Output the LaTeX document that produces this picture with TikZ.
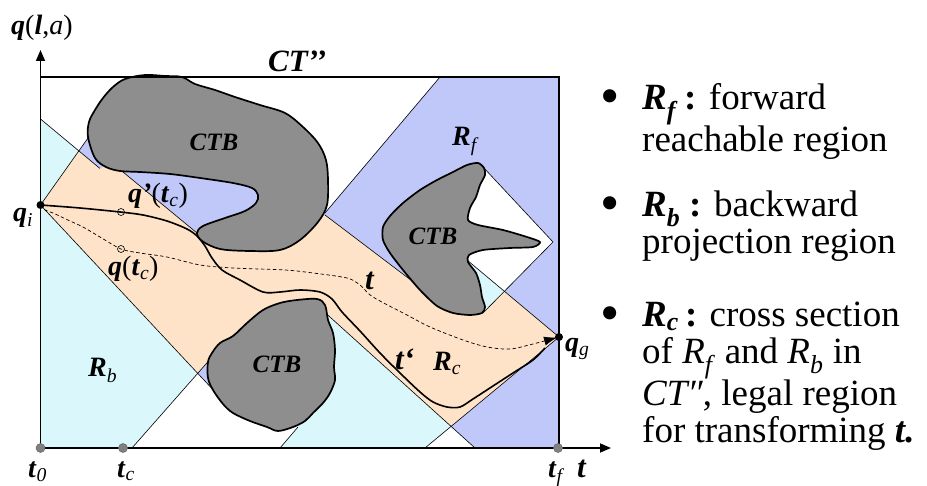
\documentclass[tikz,border=0pt]{standalone}
\usepackage{fontspec}
\setmainfont{Liberation Serif}
\usetikzlibrary{arrows.meta}
\definecolor{rbcol}{RGB}{218,248,252}
\definecolor{rfcol}{RGB}{192,200,250}
\definecolor{rccol}{RGB}{254,227,200}
\definecolor{ctbcol}{RGB}{142,142,142}
\definecolor{dotgray}{RGB}{128,128,128}
\newcommand{\bi}[1]{\textbf{\textit{#1}}}
\newcommand{\sbn}[1]{\textsubscript{\normalfont\itshape #1}}
\begin{document}
\begin{tikzpicture}[x=1pt,y=-1pt,
  rbpath/.style={insert path={(40.5,119) -- (100,168.5) -- (112,163) -- (123,172) -- (197,233) -- (215,242) -- (280,244) -- (312,222) -- (325,215) -- (420,287) -- (450,285) -- (467,260) -- (559,337) -- (425,448) -- (280,448) -- (298,427) -- (290,400) -- (213,356) -- (132,448) -- (40.5,448) -- cycle}},
  rfpath/.style={insert path={(40.5,205) -- (88,138) -- (100,118) -- (150,105) -- (250,130) -- (300,160) -- (318,200) -- (325,213) -- (440,77) -- (559,77) -- (559,448) -- (475,448) -- (320,308) -- (270,350) -- (217,394) -- cycle}},
  notchpath/.style={insert path={(483,167) -- (553,242) -- (483,313) -- (465,290) -- (455,230) -- (465,185) -- cycle}},
  thinl/.style={line width=0.6pt},
  ctb/.style={fill=ctbcol,draw=black,line width=1.7pt,line join=round},
  lab/.style={inner sep=0pt,font=\fontsize{28}{28}\selectfont},
  ctblab/.style={inner sep=0pt,font=\fontsize{25}{25}\selectfont\bfseries\itshape},
  leg/.style={inner sep=0pt,font=\fontsize{37}{37}\selectfont},
  bull/.style={inner sep=0pt,font=\fontsize{55}{55}\selectfont},
  bdot/.style={circle,fill=black,inner sep=0pt,minimum size=8pt},
  gdot/.style={circle,fill=dotgray,draw=black!60,line width=0.5pt,inner sep=0pt,minimum size=9pt},
  mk/.style={circle,draw=black,line width=0.6pt,inner sep=0pt,minimum size=7pt},
  axisarrow/.style={line width=1.6pt,-{Triangle[length=11pt,width=9pt]}}
]
\useasboundingbox (0,0) rectangle (927,486);
% regions
\fill[white] (40.5,77) rectangle (559,448);
\fill[rbcol,rbpath];
\fill[rfcol,rfpath];
\begin{scope}
  \clip[rfpath];
  \fill[rccol,rbpath];
\end{scope}
\fill[white,notchpath];
\begin{scope}
  \clip[notchpath];
  \fill[rbcol,rbpath];
\end{scope}
% region boundary lines
\draw[thinl] (40.5,119) -- (100,168.5);
\draw[thinl] (40.5,205) -- (88,138);
\draw[thinl] (123,172) -- (197,233);
\draw[thinl] (325,213) -- (440,77);
\draw[thinl] (325,215) -- (420,287);
\draw[thinl] (467,260) -- (559,337);
\draw[thinl] (483,167) -- (553,242) -- (483,313);
\draw[thinl] (559,337) -- (425,448);
\draw[thinl] (475,448) -- (320,308);
\draw[thinl] (280,448) -- (298,427);
\draw[thinl] (132,448) -- (213,356);
\draw[thinl] (40.5,205) -- (217,394);
% obstacles
\draw[ctb] plot[smooth cycle,tension=0.55] coordinates {(88,137) (89,122) (95,110) (103,98) (113,87) (125,79) (145,75) (165,76) (182,77) (195,84) (215,90) (235,97) (260,105) (285,113) (303,127) (318,143) (326,160) (328,180) (327,205) (318,222) (300,240) (280,250) (250,251) (220,249) (202,241) (197,233) (203,226) (225,218) (245,211) (256,203) (258,195) (252,188) (233,183) (200,178) (170,174) (140,172) (120,171) (106,167) (95,158)};
\draw[ctb] plot[smooth cycle,tension=0.45] coordinates {(478,163) (484,168) (485,175) (480,185) (476,197) (470,208) (468,220) (478,225) (503,230) (527,237) (540,242) (533,247) (510,248) (483,250) (469,255) (468,262) (476,273) (480,285) (482,297) (485,307) (482,313) (470,315) (453,313) (437,306) (420,290) (403,270) (390,253) (383,240) (383,227) (390,216) (403,203) (420,190) (437,180) (453,172) (467,165)};
\draw[ctb] plot[smooth cycle,tension=0.55] coordinates {(208,362) (212,353) (220,343) (233,336) (247,323) (263,310) (280,303) (297,300) (317,299) (325,305) (328,320) (333,333) (335,350) (334,367) (335,380) (330,393) (323,403) (313,413) (305,421) (293,427) (278,431) (267,427) (250,421) (233,413) (223,404) (213,390) (208,378)};
\node[ctblab] (ctb1) at (214,142) {CTB};
\node[ctblab] (ctb2) at (433,236) {CTB};
\node[ctblab] (ctb3) at (277,364) {CTB};
% frame and axes
\coordinate (O) at (40.5,448);
\coordinate (ytip) at (40.5,50);
\coordinate (xtip) at (611,448);
\coordinate (tl) at (40.5,77);
\coordinate (tr) at (559,77);
\coordinate (br) at (559,448);
\draw[line width=2pt] (tl) -- (tr) -- (br);
\draw[axisarrow] (O) -- (ytip);
\draw[axisarrow] (O) -- (xtip);
% points
\node[bdot] (qi) at (40.5,205) {};
\node[bdot] (qg) at (559,337) {};
\node[gdot] (t0) at (40.5,448) {};
\node[gdot] (tc) at (123,448) {};
\node[gdot] (tf) at (558,448) {};
% trajectories
\draw[line width=1.6pt,line join=round] plot[smooth,tension=0.5] coordinates {(qi.center) (80,208) (120,212) (143,215) (167,221) (187,229) (197,236) (205,246) (212,258) (222,270) (240,280) (263,292) (280,292) (300,290) (320,292) (332,299) (342,312) (360,331) (380,353) (400,373) (420,392) (433,402) (447,407) (460,407) (473,399) (493,386) (513,373) (533,360) (545,348)};
\draw[line width=0.7pt,dash pattern=on 3.5pt off 2.5pt,-{Latex[length=13pt,width=9pt]},shorten >=2pt] plot[smooth,tension=0.5] coordinates {(qi.center) (45,210) (53,213) (70,221) (83,227) (100,237) (121,249) (140,253) (167,257) (200,265) (233,268) (285,270) (313,273) (347,278) (360,285) (373,297) (407,315) (430,327) (463,340) (487,347) (510,349) (533,344) (qg.center)};
\node[mk] (m1) at (121,212) {};
\node[mk] (m2) at (121,249) {};
% labels
\node[lab,anchor=base west] (ylab) at (11,35) {\bi{q}(\bi{l},\textit{a})};
\node[lab,anchor=base west,font=\fontsize{31}{31}\selectfont\bfseries\itshape] (ctpp) at (268,72) {CT’’};
\node[lab,anchor=base west] (rf) at (452,146) {\bi{R}\sbn{f}};
\node[lab,anchor=base west] (qil) at (13,222) {\bi{q}\sbn{i}};
\node[lab,anchor=base west] (qptc) at (128,203) {\bi{q’}(\bi{t}\sbn{c})};
\node[lab,anchor=base west] (qtc) at (108,276) {\bi{q}(\bi{t}\sbn{c})};
\node[lab,anchor=base west,font=\fontsize{31}{31}\selectfont] (tl1) at (365,290) {\bi{t}};
\node[lab,anchor=base west,font=\fontsize{31}{31}\selectfont] (tl2) at (395,370) {\bi{t‘}};
\node[lab,anchor=base west] (rc) at (433,371) {\bi{R}\sbn{c}};
\node[lab,anchor=base west] (rb) at (88,377) {\bi{R}\sbn{b}};
\node[lab,anchor=base west] (qgl) at (565,352) {\bi{q}\sbn{g}};
\node[lab,anchor=base west] (t0l) at (28,477) {\bi{t}\sbn{0}};
\node[lab,anchor=base west] (tcl) at (117,477) {\bi{t}\sbn{c}};
\node[lab,anchor=base west] (tfl) at (548,477) {\bi{t}\sbn{f}};
\node[lab,anchor=base west,font=\fontsize{31}{31}\selectfont] (taxis) at (577,477) {\bi{t}};
% legend
\node[bull,anchor=base] (b1) at (610,115) {\textbullet};
\node[bull,anchor=base] (b2) at (610,222) {\textbullet};
\node[bull,anchor=base] (b3) at (610,332) {\textbullet};
\node[leg,anchor=base west] (l1) at (642,110) {\parbox[t]{285pt}{\raggedright\baselineskip=39pt \bi{R}\textsubscript{\bi{f}}\,\textbf{:} forward\\reachable region}};
\node[leg,anchor=base west] (l2) at (642,217) {\parbox[t]{285pt}{\raggedright\baselineskip=36.5pt \bi{R}\textsubscript{\bi{b}} \textbf{:} backward\\projection region}};
\node[leg,anchor=base west] (l3) at (642,327) {\parbox[t]{285pt}{\raggedright\baselineskip=36.7pt \bi{R}\textsubscript{\bi{c}}\,\textbf{:} cross section\\of \textit{R}\textsubscript{\textit{f}} and \textit{R}\textsubscript{\textit{b}} in\\\textit{CT″}, legal region\\for transforming \bi{t.}}};
\end{tikzpicture}
\end{document}
